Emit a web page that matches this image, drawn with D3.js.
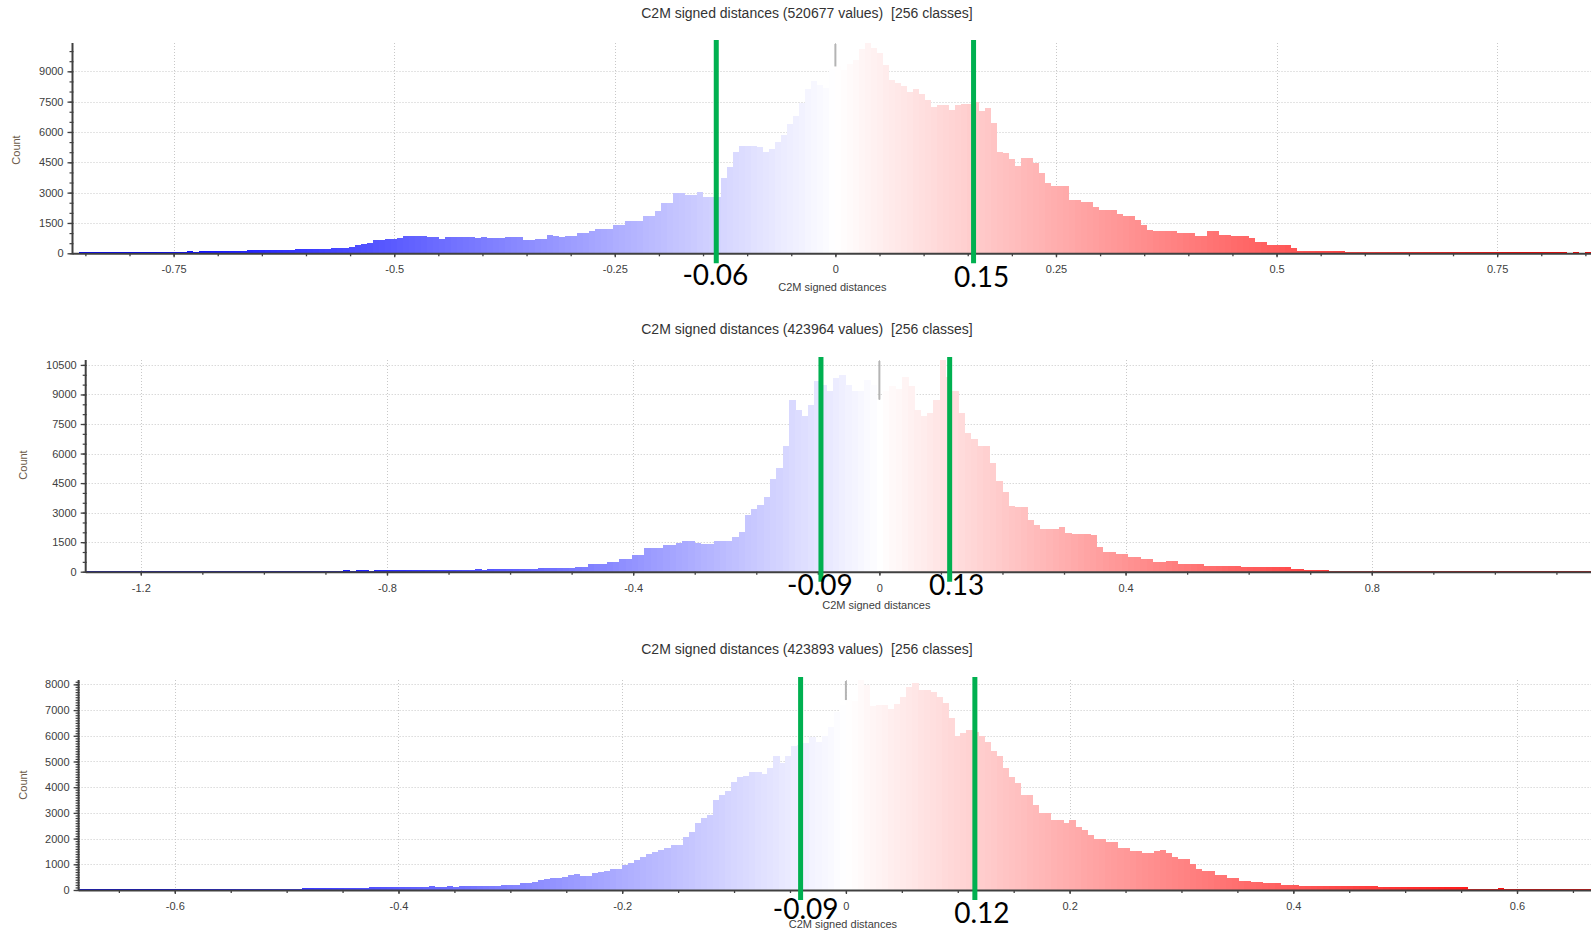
<!DOCTYPE html>
<html><head><meta charset="utf-8">
<script src="https://cdn.jsdelivr.net/npm/d3@7/dist/d3.min.js"></script>
<style>body{margin:0;background:#fff;overflow:hidden}</style>
</head><body>
<svg id="chart" width="1591" height="933"></svg>
<script>
// ---------------- DATA ----------------
const titles = [
  "C2M signed distances (520677 values)  [256 classes]",
  "C2M signed distances (423964 values)  [256 classes]",
  "C2M signed distances (423893 values)  [256 classes]"
];
const xAxisTitle = "C2M signed distances";
const yAxisTitle = "Count";

// histogram class range (first class start) and class width, 256 classes each
const classStart = [-0.8646, -1.2895, -0.686];
const classWidth = [0.0068, 0.0102, 0.0054];

const counts1 = [
30,40,50,40,50,50,60,50,60,60,
60,70,60,70,70,80,70,80,80,90,
80,90,100,110,120,120,130,130,130,140,
140,150,160,170,180,180,180,190,200,220,
220,230,230,240,250,280,300,410,470,510,
640,640,690,690,760,860,860,860,860,800,
790,730,800,825,820,820,810,760,810,760,
760,760,790,790,790,660,660,710,710,900,
860,790,870,870,990,990,1110,1220,1220,1220,
1390,1390,1620,1620,1620,1850,1850,2100,2480,2480,
2970,2970,2890,2890,3050,2770,2770,2770,3710,4290,
5030,5330,5330,5330,5250,5000,5150,5480,5860,6400,
6800,7430,8120,8500,8330,8170,9110,9240,9080,9360,
9570,10100,10400,10150,9900,9320,8580,8420,8280,8000,
8120,7890,7590,7230,7350,7350,7100,7350,7380,7380,
7460,7050,7180,6440,5030,4980,4650,4320,4700,4700,
4450,3960,3500,3330,3330,3330,2640,2640,2560,2560,
2310,2150,2150,2150,1930,1850,1850,1650,1400,1160,
1110,1110,1110,1100,990,990,990,860,860,1120,
1120,910,910,860,860,860,740,580,580,410,
410,410,410,250,130,130,120,110,110,100,
90,90,80,80,80,80,70,80,70,70,
70,70,60,70,60,60,60,60,50,60,
50,50,60,50,50,50,50,40,50,50,
40,50,40,40,50,40,40,40,40,30,
40,30,40,30,30,30
];
const counts2 = [
30,20,30,30,20,30,30,30,40,30,
30,40,30,40,40,30,40,40,40,50,
40,40,50,40,50,50,40,50,50,50,
50,60,50,50,60,60,50,60,60,60,
60,70,60,70,70,60,70,70,80,70,
80,80,80,90,90,90,100,90,100,100,
110,110,120,110,120,130,120,140,150,160,
150,160,170,170,170,170,200,200,250,250,
370,370,370,500,500,620,620,870,870,1210,
1210,1210,1380,1380,1460,1550,1550,1460,1410,1410,
1560,1560,1560,1760,2020,2860,3190,3400,3780,4700,
5290,6380,8740,8200,7900,8490,9660,9500,9160,9830,
10000,9490,9160,9160,9740,9490,8740,9200,9440,9270,
9910,9410,8230,7900,8060,8740,10750,9900,9160,8060,
7060,6720,6380,6380,5540,4620,4030,3360,3280,3280,
2600,2350,2180,2180,2180,2270,1980,1900,1900,1900,
1850,1260,1010,1010,920,920,760,760,620,620,
470,470,540,540,370,370,370,370,300,300,
300,300,300,280,260,240,240,240,240,240,
240,240,130,130,100,100,100,100,60,50,
50,50,50,50,40,50,40,40,50,40,
40,40,30,40,30,30,30,40,30,30,
30,30,30,20,30,30,20,30,20,20,
20,20,30,20,20,20,20,20,20,20,
20,20,10,20,20,10,20,10,10,10,
10,10,10,10,10,10
];
const counts3 = [
40,30,40,30,40,40,30,40,30,40,
30,40,40,30,40,40,30,40,40,40,
40,40,40,50,40,40,40,50,40,40,
40,50,50,50,50,40,50,60,60,60,
60,65,70,80,90,90,90,90,110,110,
110,115,120,110,120,130,130,130,140,130,
130,140,130,150,150,150,160,150,150,160,
180,210,210,285,285,300,390,420,450,480,
520,570,610,545,560,650,700,750,800,830,
970,1050,1170,1300,1400,1490,1550,1620,1750,1750,
2070,2250,2600,2790,2900,3500,3700,3850,4200,4400,
4450,4600,4600,4500,4750,5210,4950,5200,5600,5650,
5700,5950,5770,5990,6350,6940,7200,7390,7360,8170,
7970,7160,7180,7180,7030,7240,7500,7910,8040,7780,
7800,7710,7520,7260,6680,5990,6090,6220,6150,5990,
5770,5420,5210,4730,4410,4150,3700,3700,3310,2980,
2980,2720,2720,2590,2720,2460,2330,2140,1970,1970,
1880,1880,1620,1620,1530,1530,1450,1450,1530,1560,
1430,1300,1190,1190,1010,800,750,750,580,580,
450,450,360,360,320,320,260,260,260,195,
195,195,170,170,170,170,170,170,140,140,
140,140,140,140,140,115,115,115,115,115,
115,105,105,105,105,105,105,105,105,100,
50,50,50,50,50,60,50,50,50,50,
40,40,40,40,40,40,40,40,40,40,
40,30,30,30,30,30
];

const xTicks1 = [-0.75, -0.5, -0.25, 0, 0.25, 0.5, 0.75];
const xTicks2 = [-1.2, -0.8, -0.4, 0, 0.4, 0.8, 1.2];
const xTicks3 = [-0.6, -0.4, -0.2, 0, 0.2, 0.4, 0.6];
const xSubStep = [0.05, 0.1, 0.05];
const yTicks1 = [0, 1500, 3000, 4500, 6000, 7500, 9000];
const yTicks2 = [0, 1500, 3000, 4500, 6000, 7500, 9000, 10500];
const yTicks3 = [0, 1000, 2000, 3000, 4000, 5000, 6000, 7000, 8000];
const ySubStep = [500, 500, 100];

// threshold annotations (position on distance axis) and their labels
const markerPos1 = [-0.135, 0.1566];
const markerPos2 = [-0.0949, 0.1142];
const markerPos3 = [-0.0405, 0.1153];
const markerLabels1 = ["-0.06", "0.15"];
const markerLabels2 = ["-0.09", "0.13"];
const markerLabels3 = ["-0.09", "0.12"];

// ---------------- LAYOUT / STYLE ----------------
const panels = [
  {counts: counts1, xTicks: xTicks1, yTicks: yTicks1, markers: markerPos1, mlabels: markerLabels1,
   left: 72.5, classPx: 6.0, top: 43, bottom: 253.3, titleY: 18, xTitleY: 291, countY: 150, countX: 20,
   labelDx: [-1, 8], labelBase: [285, 287], colorRange: 0.78},
  {counts: counts2, xTicks: xTicks2, yTicks: yTicks2, markers: markerPos2, mlabels: markerLabels2,
   left: 85.7, classPx: 6.278, top: 360, bottom: 571.7, titleY: 334, xTitleY: 609, countY: 465, countX: 27,
   labelDx: [-1, 7], labelBase: [595, 595], colorRange: 0.95},
  {counts: counts3, xTicks: xTicks3, yTicks: yTicks3, markers: markerPos3, mlabels: markerLabels3,
   left: 78.6, classPx: 6.04, top: 680, bottom: 890, titleY: 654, xTitleY: 928, countY: 785, countX: 27,
   labelDx: [5, 7], labelBase: [919, 923], colorRange: 0.62}
];
const W = 1591;
const tickFont = "Liberation Sans, Arial, sans-serif";

const svg = d3.select("#chart");
svg.append("rect").attr("width", W).attr("height", 933).attr("fill", "#fff");

panels.forEach((p, k) => {
  const n = p.counts.length;
  const x0 = classStart[k], w = classWidth[k];
  const x = d3.scaleLinear().domain([x0, x0 + n * w]).range([p.left, p.left + n * p.classPx]);
  const y = d3.scaleLinear().domain([0, d3.max(p.counts)]).range([p.bottom, p.top]);
  const R = p.colorRange;
  const color = d3.scaleLinear().domain([-R, 0, R]).range(["#0000ff", "#ffffff", "#ff0000"]).clamp(true);

  const clipId = "clip" + k;
  svg.append("clipPath").attr("id", clipId).append("rect")
    .attr("x", p.left).attr("y", 0).attr("width", W - p.left).attr("height", 933);

  const g = svg.append("g");
  const gc = g.append("g").attr("clip-path", `url(#${clipId})`);

  // grid
  const xMaxVis = x.invert(W);
  gc.append("g").selectAll("line").data(p.xTicks.filter(t => t > x0 && t < xMaxVis)).join("line")
    .attr("x1", d => Math.round(x(d)) + 0.5).attr("x2", d => Math.round(x(d)) + 0.5)
    .attr("y1", p.top).attr("y2", p.bottom)
    .attr("stroke", "#c8c8c8").attr("stroke-width", 1).attr("stroke-dasharray", "1,2");
  gc.append("g").selectAll("line").data(p.yTicks.filter(t => t > 0)).join("line")
    .attr("x1", p.left).attr("x2", W)
    .attr("y1", d => Math.round(y(d)) + 0.5).attr("y2", d => Math.round(y(d)) + 0.5)
    .attr("stroke", "#c8c8c8").attr("stroke-width", 1).attr("stroke-dasharray", "1,2");

  // bars
  gc.append("g").selectAll("rect").data(p.counts).join("rect")
    .attr("x", (d, i) => x(x0 + i * w))
    .attr("width", (d, i) => x(x0 + (i + 1) * w) - x(x0 + i * w) + 0.4)
    .attr("y", d => y(d))
    .attr("height", d => p.bottom - y(d))
    .attr("fill", (d, i) => color(x0 + (i + 0.5) * w))
    .attr("shape-rendering", "crispEdges");

  // zero marker (grey line from top down to the class at 0)
  const zi = Math.floor((0 - x0) / w);
  gc.append("line")
    .attr("x1", x(0)).attr("x2", x(0))
    .attr("y1", p.top + 1).attr("y2", y(p.counts[zi]))
    .attr("stroke", "#b4b4b4").attr("stroke-width", 2);

  // x axis
  const xa = d3.axisBottom(x).tickValues(p.xTicks.filter(t => t > x0 && t < xMaxVis))
    .tickSize(4).tickFormat(d => d === 0 ? "0" : String(d));
  const subX = d3.range(Math.ceil(x0 / xSubStep[k]), Math.floor(xMaxVis / xSubStep[k]) + 1)
    .map(v => +(v * xSubStep[k]).toFixed(4));
  const xg = g.append("g").attr("transform", `translate(0,${p.bottom})`);
  xg.append("g").call(d3.axisBottom(x).tickValues(subX).tickSize(3).tickFormat(""))
    .call(s => s.select(".domain").remove())
    .selectAll("line").attr("stroke", "#404040").attr("stroke-width", 1.3);
  xg.append("g").call(xa)
    .call(s => s.select(".domain").remove())
    .call(s => s.selectAll("line").attr("stroke", "#404040").attr("stroke-width", 1.3))
    .call(s => s.selectAll("text").attr("fill", "#404040").attr("font-family", tickFont)
      .attr("font-size", 11).attr("dy", "0.9em").attr("y", 10));
  xg.append("line").attr("x1", p.left).attr("x2", W).attr("y1", 0.5).attr("y2", 0.5)
    .attr("stroke", "#404040").attr("stroke-width", 2);

  // y axis
  const subY = d3.range(0, d3.max(p.counts) + 1, ySubStep[k]);
  const yg = g.append("g").attr("transform", `translate(${p.left},0)`);
  yg.append("g").call(d3.axisLeft(y).tickValues(subY).tickSize(3).tickFormat(""))
    .call(s => s.select(".domain").remove())
    .selectAll("line").attr("stroke", "#404040").attr("stroke-width", 1.2).attr("x2", -3).attr("x1", 1);
  yg.append("g").call(d3.axisLeft(y).tickValues(p.yTicks).tickSize(5).tickFormat(d3.format("d")))
    .call(s => s.select(".domain").remove())
    .call(s => s.selectAll("line").attr("stroke", "#404040").attr("stroke-width", 1.3))
    .call(s => s.selectAll("text").attr("fill", "#404040").attr("font-family", tickFont)
      .attr("font-size", 11).attr("x", -9));
  yg.append("line").attr("x1", 0).attr("x2", 0).attr("y1", p.top).attr("y2", p.bottom + 1)
    .attr("stroke", "#404040").attr("stroke-width", 2);

  // titles
  svg.append("text").attr("x", 807).attr("y", p.titleY).attr("text-anchor", "middle")
    .attr("font-family", tickFont).attr("font-size", 14).attr("fill", "#333")
    .style("white-space", "pre").attr("xml:space", "preserve")
    .text(titles[k]);
  svg.append("text").attr("x", x(0) - 3).attr("y", p.xTitleY).attr("text-anchor", "middle")
    .attr("font-family", tickFont).attr("font-size", 11).attr("fill", "#404040")
    .text(xAxisTitle);
  svg.append("text").attr("transform", `translate(${p.countX},${p.countY}) rotate(-90)`)
    .attr("text-anchor", "middle").attr("font-family", tickFont).attr("font-size", 11)
    .attr("fill", "#6b5a48").text(yAxisTitle);

  // green threshold lines + labels
  p.markers.forEach((m, j) => {
    svg.append("line").attr("x1", x(m)).attr("x2", x(m))
      .attr("y1", p.top - 3).attr("y2", p.bottom + 10)
      .attr("stroke", "#00b050").attr("stroke-width", 5);
    svg.append("text").attr("x", x(m) + p.labelDx[j]).attr("y", p.labelBase[j])
      .attr("text-anchor", "middle").attr("font-family", "Lato, 'Open Sans', sans-serif")
      .attr("font-size", 28).attr("fill", "#000").text(p.mlabels[j]);
  });
});
</script>
</body></html>
